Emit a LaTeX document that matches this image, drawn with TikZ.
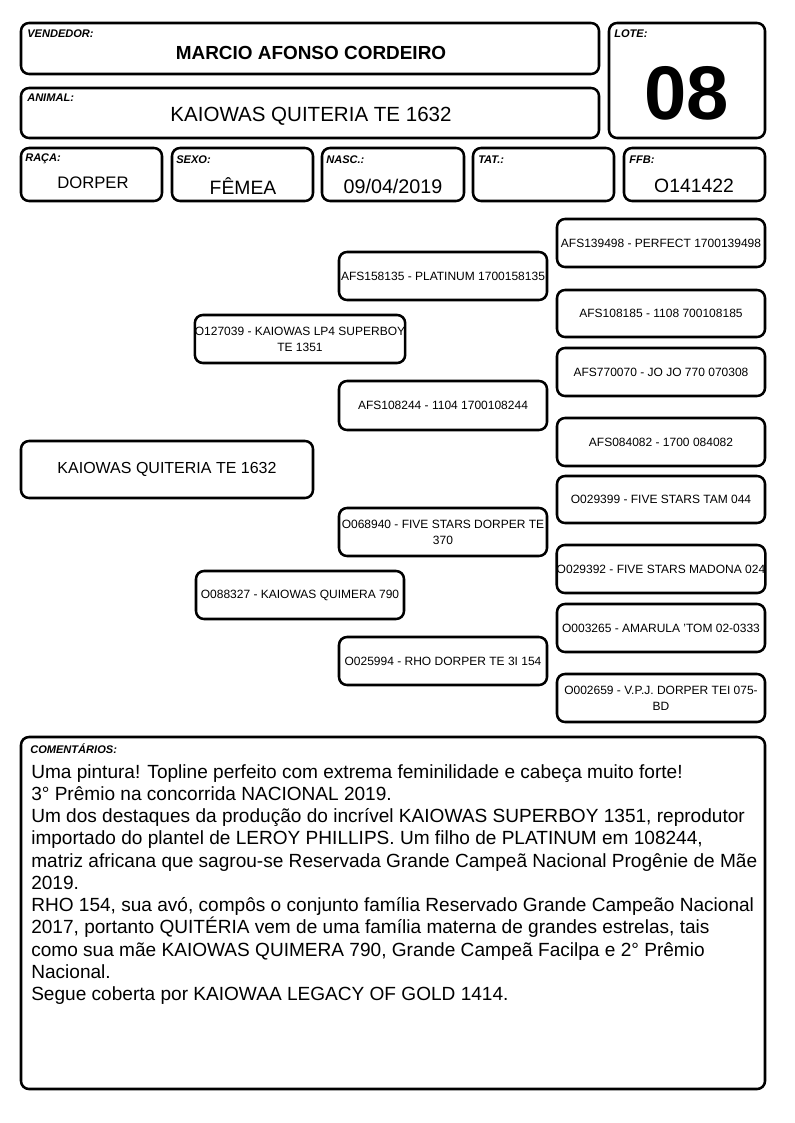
\documentclass[tikz,border=0pt]{standalone}
\usepackage{fontspec}
\setmainfont{Liberation Sans}
\begin{document}
\begin{tikzpicture}[x=0.75pt,y=-0.75pt,
  box/.style={draw=black,line width=1.9pt,rounded corners=6pt,inner sep=0pt,fill=white,align=center},
  lbl/.style={anchor=north west,inner sep=0pt,font=\fontsize{8.3}{9}\selectfont\bfseries\itshape},
  ped/.style={font=\fontsize{9}{12}\selectfont},
]
\newcommand{\pbox}[7]{\node[box,#2,minimum width={(#5-#3)*0.75pt},minimum height={(#6-#4)*0.75pt}] (#1) at ({(#3+#5)/2},{(#4+#6)/2}) {#7};}
\useasboundingbox[fill=white] (0,0) rectangle (794,1123);
% header
\pbox{vend}{}{21}{23}{599}{74}{}
\node[font=\fontsize{14.2}{16}\selectfont\bfseries] (vendname) at (311,53) {MARCIO AFONSO CORDEIRO};
\node[lbl] (vendlbl) at (27,30) {VENDEDOR:};
\pbox{anim}{}{21}{88}{599}{138}{}
\node[font=\fontsize{15.4}{17}\selectfont] (animname) at (311,116) {KAIOWAS QUITERIA TE 1632};
\node[lbl] (animlbl) at (27,94) {ANIMAL:};
\pbox{lote}{}{609}{23}{765}{138}{}
\node[font=\fontsize{57}{60}\selectfont\bfseries] (lotenum) at (687,93) {08};
\node[lbl] (lotelbl) at (614,30) {LOTE:};
\pbox{raca}{}{21}{148}{162}{201}{}
\node[lbl] (racalbl) at (25,154) {RAÇA:};
\node[font=\fontsize{12.5}{15}\selectfont] (racav) at (93,183) {DORPER};
\pbox{sexo}{}{172}{148}{313}{201}{}
\node[lbl] (sexolbl) at (176,156) {SEXO:};
\node[font=\fontsize{14.5}{16}\selectfont] (sexov) at (243,186) {FÊMEA};
\pbox{nasc}{}{322}{148}{464}{201}{}
\node[lbl] (nasclbl) at (326,156) {NASC.:};
\node[font=\fontsize{14.8}{16}\selectfont] (nascv) at (393,186) {09/04/2019};
\pbox{tat}{}{473}{148}{614}{201}{}
\node[lbl] (tatlbl) at (478,156) {TAT.:};
\pbox{ffb}{}{624}{148}{765}{201}{}
\node[lbl] (ffblbl) at (629,156) {FFB:};
\node[font=\fontsize{14.5}{16}\selectfont] (ffbv) at (694,186) {O141422};
% pedigree
\pbox{main}{font=\fontsize{12}{14}\selectfont}{21}{441}{313}{498}{KAIOWAS QUITERIA TE 1632}
\pbox{sire}{ped}{196}{315}{404}{363}{O127039 - KAIOWAS LP4 SUPERBOY\\TE 1351}
\pbox{dam}{ped}{196}{571}{404}{619}{O088327 - KAIOWAS QUIMERA 790}
\pbox{ss}{ped}{339}{252}{547}{300}{AFS158135 - PLATINUM 1700158135}
\pbox{sd}{ped}{339}{381}{547}{430}{AFS108244 - 1104 1700108244}
\pbox{ds}{ped}{339}{508}{547}{556}{O068940 - FIVE STARS DORPER TE\\370}
\pbox{dd}{ped}{339}{637}{547}{685}{O025994 - RHO DORPER TE 3I 154}
\pbox{sss}{ped}{557}{219}{765}{267}{AFS139498 - PERFECT 1700139498}
\pbox{ssd}{ped}{557}{290}{765}{337}{AFS108185 - 1108 700108185}
\pbox{sds}{ped}{557}{348}{765}{396}{AFS770070 - JO JO 770 070308}
\pbox{sdd}{ped}{557}{418}{765}{466}{AFS084082 - 1700 084082}
\pbox{dss}{ped}{557}{476}{765}{523}{O029399 - FIVE STARS TAM 044}
\pbox{dsd}{ped}{557}{545}{765}{593}{O029392 - FIVE STARS MADONA 024}
\pbox{dds}{ped}{557}{604}{765}{652}{O003265 - AMARULA 'TOM 02-0333}
\pbox{ddd}{ped}{557}{674}{765}{722}{O002659 - V.P.J. DORPER TEI 075-\\BD}
% comments
\pbox{com}{}{21}{737}{765}{1089}{}
\node[lbl] (comlbl) at (30,743) {COMENTÁRIOS:};
\node[anchor=north west,inner sep=0pt,align=left,font=\fontsize{14.3}{16.7}\selectfont] (comtext) at (31,764) {Uma pintura! Topline perfeito com extrema feminilidade e cabeça muito forte!\\
3° Prêmio na concorrida NACIONAL 2019.\\
Um dos destaques da produção do incrível KAIOWAS SUPERBOY 1351, reprodutor\\
importado do plantel de LEROY PHILLIPS. Um filho de PLATINUM em 108244,\\
matriz africana que sagrou-se Reservada Grande Campeã Nacional Progênie de Mãe\\
2019.\\
RHO 154, sua avó, compôs o conjunto família Reservado Grande Campeão Nacional\\
2017, portanto QUITÉRIA vem de uma família materna de grandes estrelas, tais\\
como sua mãe KAIOWAS QUIMERA 790, Grande Campeã Facilpa e 2° Prêmio\\
Nacional.\\
Segue coberta por KAIOWAA LEGACY OF GOLD 1414.};
\end{tikzpicture}
\end{document}
